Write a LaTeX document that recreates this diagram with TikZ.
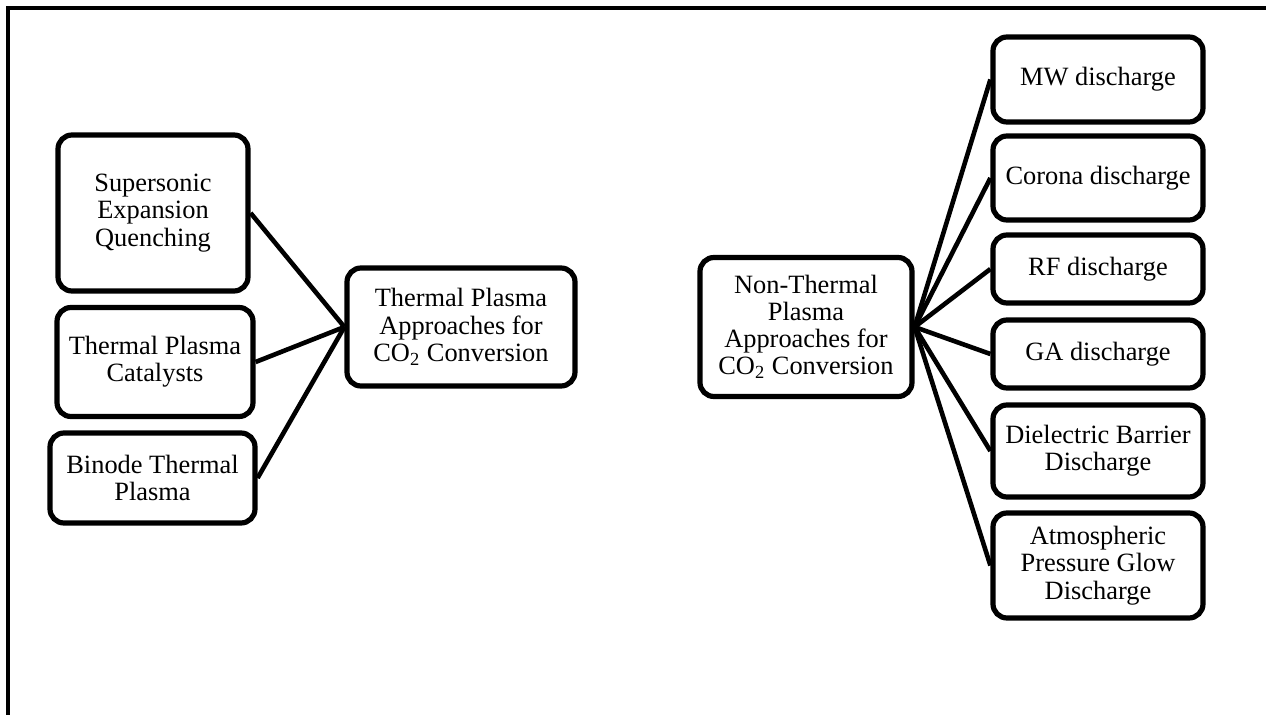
\documentclass[tikz,border=0pt]{standalone}
\usepackage{fontspec}
\setmainfont{Liberation Serif}
\usepackage{tikz}

\begin{document}
\begin{tikzpicture}[x=0.5pt,y=-0.5pt,
    box/.style={shape=rectangle,rounded corners=7pt,draw=black,line width=2.6pt,
        align=center,inner sep=1pt,font=\fontsize{13.2}{13.6}\selectfont},
    link/.style={line width=2.3pt}]

	\useasboundingbox (0,0) rectangle (1266,715);
	\draw[line width=2pt] (8,715) -- (8,8) -- (1266,8);

	\node[box,minimum width=95pt,minimum height=78pt] (sup) at (153, 213)     {Supersonic\\Expansion\\Quenching};
	\node[box,minimum width=98pt,minimum height=54.5pt] (cat) at (155, 362)   {Thermal Plasma\\Catalysts};
	\node[box,minimum width=102.5pt,minimum height=45pt] (bin) at (152.5, 478) {Binode Thermal\\Plasma};
	\node[box,minimum width=114pt,minimum height=59pt] (tp) at (461, 327)     {Thermal Plasma\\Approaches for\\CO\textsubscript{2} Conversion};

	\node[box,minimum width=106pt,minimum height=69.5pt] (ntp) at (806, 327)  {Non-Thermal\\Plasma\\Approaches for\\CO\textsubscript{2} Conversion};
	\node[box,minimum width=105pt,minimum height=42.5pt] (mw) at (1098, 79.5) {MW discharge};
	\node[box,minimum width=105pt,minimum height=42pt] (cor) at (1098, 178)   {Corona discharge};
	\node[box,minimum width=105pt,minimum height=34pt] (rf) at (1098, 269)    {RF discharge};
	\node[box,minimum width=105pt,minimum height=34pt] (ga) at (1098, 354)    {GA discharge};
	\node[box,minimum width=105pt,minimum height=46pt] (dbd) at (1098, 451)   {Dielectric Barrier\\Discharge};
	\node[box,minimum width=105pt,minimum height=52.5pt] (apg) at (1098, 565.5) {Atmospheric\\Pressure Glow\\Discharge};

	\path[link] (sup.east) edge (tp.west);
	\path[link] (cat.east) edge (tp.west);
	\path[link] (bin.east) edge (tp.west);

	\path[link] (ntp.east) edge (mw.west);
	\path[link] (ntp.east) edge (cor.west);
	\path[link] (ntp.east) edge (rf.west);
	\path[link] (ntp.east) edge (ga.west);
	\path[link] (ntp.east) edge (dbd.west);
	\path[link] (ntp.east) edge (apg.west);

\end{tikzpicture}
\end{document}
